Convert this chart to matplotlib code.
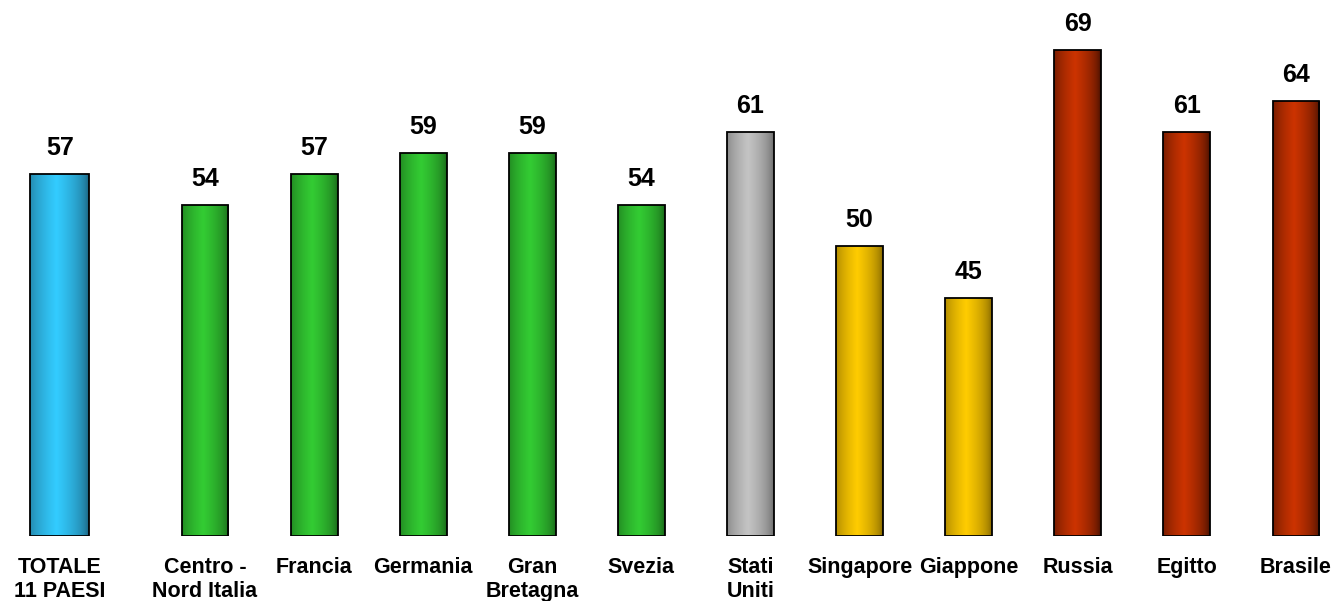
import numpy as np
import matplotlib
matplotlib.use("Agg")
import matplotlib.pyplot as plt
from matplotlib.colors import LinearSegmentedColormap
from matplotlib.patches import Rectangle

categories = ["TOTALE\n11 PAESI", "Centro -\nNord Italia", "Francia", "Germania",
              "Gran\nBretagna", "Svezia", "Stati\nUniti", "Singapore", "Giappone",
              "Russia", "Egitto", "Brasile"]
values = [57, 54, 57, 59, 59, 54, 61, 50, 45, 69, 61, 64]
groups = ["totale", "europa", "europa", "europa", "europa", "europa", "usa",
          "asia", "asia", "emergenti", "emergenti", "emergenti"]

# (dark edge, light centre) per group
palette = {
    "totale": ("#17506a", "#33ccff"),
    "europa": ("#155415", "#33cc33"),
    "usa": ("#5a5a5a", "#c4c4c4"),
    "asia": ("#6e5400", "#ffcc00"),
    "emergenti": ("#2e0a00", "#cc3300"),
}

plt.rcParams["font.family"] = ["Liberation Sans", "DejaVu Sans"]

fig = plt.figure(figsize=(13.32, 6.01), dpi=100)
ax = fig.add_axes([0, 65 / 601, 1, 536 / 601])
ymin, ymax = 22, 73.8
ax.set_xlim(-0.879, 11.33)
ax.set_ylim(ymin, ymax)
ax.axis("off")

positions = [-0.33] + list(range(1, len(values)))
widths = [0.54] + [0.43] * (len(values) - 1)

# horizontal shading profile: dark at the edges, bright slightly left of centre
xs = np.linspace(0, 1, 256)
profile = np.clip(1 - np.abs(xs - 0.45) / 0.55, 0, 1) ** 0.45
grad = profile[np.newaxis, :]

for x, w, v, g in zip(positions, widths, values, groups):
    dark, light = palette[g]
    cmap = LinearSegmentedColormap.from_list(g, [dark, light])
    x0 = x - w / 2
    im = ax.imshow(grad, cmap=cmap, aspect="auto", interpolation="bilinear",
                   extent=(x0, x0 + w, ymin, v), vmin=0, vmax=1, zorder=2)
    rect = Rectangle((x0, ymin), w, v - ymin, facecolor="none",
                     edgecolor="black", linewidth=1.3, zorder=3)
    ax.add_patch(rect)
    im.set_clip_path(rect)
    ax.text(x, v + 1.35, f"{v}", ha="center", va="bottom",
            fontsize=18, fontweight="bold", color="black")

for x, lab in zip(positions, categories):
    ax.text(x, ymin - 2.0, lab, ha="center", va="top", fontsize=15.5,
            fontweight="bold", color="black", linespacing=1.2, clip_on=False)

fig.savefig("out.png", dpi=100)
